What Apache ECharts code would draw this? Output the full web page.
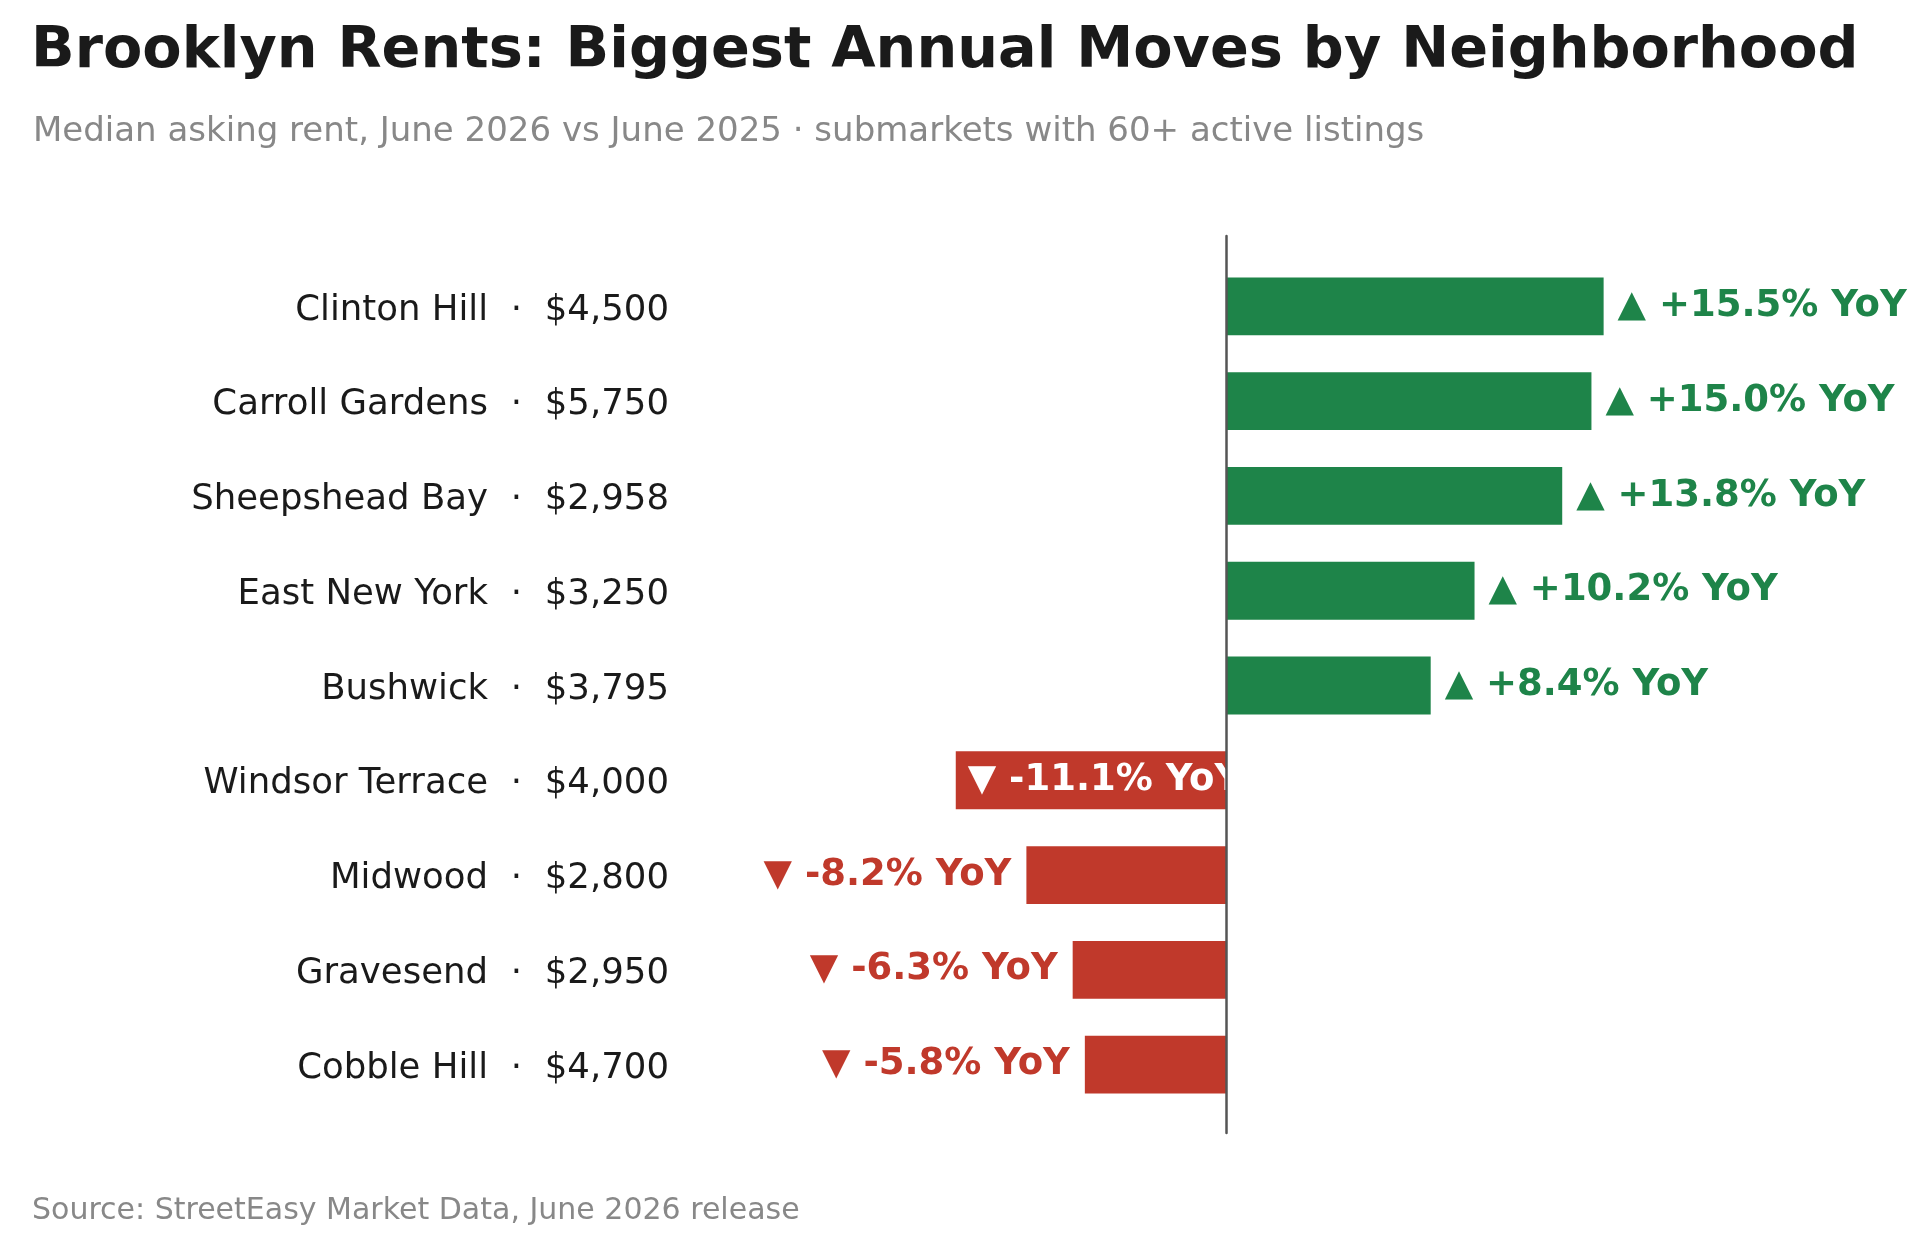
<!DOCTYPE html>
<html>
<head>
<meta charset="utf-8">
<title>Brooklyn Rents</title>
<script src="https://cdn.jsdelivr.net/npm/echarts@6/dist/echarts.min.js"></script>
<style>
  html, body { margin: 0; padding: 0; background: #fff; }
  #main { width: 1920px; height: 1237px; }
</style>
</head>
<body>
<div id="main"></div>
<script>
// neighborhoods, top to bottom
const neighborhoods = ['Clinton Hill', 'Carroll Gardens', 'Sheepshead Bay', 'East New York', 'Bushwick',
                       'Windsor Terrace', 'Midwood', 'Gravesend', 'Cobble Hill'];
// median asking rent, June 2026 ($)
const rents = [4500, 5750, 2958, 3250, 3795, 4000, 2800, 2950, 4700];
// year-over-year change (%)
const yoyChange = [15.5, 15.0, 13.8, 10.2, 8.4, -11.1, -8.2, -6.3, -5.8];

const GREEN = '#1e8449';
const RED = '#c0392b';
const FONT = 'DejaVu Sans';

const chart = echarts.init(document.getElementById('main'));

function yoyText(v) {
    return (v >= 0 ? '▲ +' : '▼ ') + v.toFixed(1) + '% YoY';
}

const barData = yoyChange.map(function (v) {
    const up = v >= 0;
    const inside = v <= -10; // long red bar holds its own label
    return {
        value: v,
        itemStyle: { color: up ? GREEN : RED },
        label: {
            position: up ? 'right' : (inside ? 'insideLeft' : 'left'),
            distance: up ? 14 : (inside ? 12 : 15),
            color: inside ? '#fff' : (up ? GREEN : RED)
        }
    };
});

const option = {
    backgroundColor: '#fff',
    animation: false,
    title: [
        {
            text: 'Brooklyn Rents: Biggest Annual Moves by Neighborhood',
            left: 26, top: 19,
            textStyle: { fontFamily: FONT, fontSize: 57.3, fontWeight: 'bold', color: '#1a1a1a' }
        },
        {
            text: 'Median asking rent, June 2026 vs June 2025 · submarkets with 60+ active listings',
            left: 28, top: 110,
            textStyle: { fontFamily: FONT, fontSize: 34, fontWeight: 'normal', color: '#888' }
        },
        {
            text: 'Source: StreetEasy Market Data, June 2026 release',
            left: 27, top: 1191,
            textStyle: { fontFamily: FONT, fontSize: 30, fontWeight: 'normal', color: '#888' }
        }
    ],
    grid: [
        { left: 739, width: 1096, top: 259, height: 853 },
        { left: 739, width: 1096, top: 236, bottom: 104 } // only for the zero line
    ],
    xAxis: [
        { type: 'value', gridIndex: 0, min: -20, max: 25, show: false },
        { type: 'value', gridIndex: 1, min: -20, max: 25, show: false }
    ],
    yAxis: [
        {
            type: 'category',
            gridIndex: 0,
            inverse: true,
            data: neighborhoods,
            axisLine: { show: false },
            axisTick: { show: false },
            splitLine: { show: false },
            axisLabel: {
                interval: 0,
                margin: 70,
                padding: [8, 0, 0, 0],
                formatter: function (name, i) {
                    return '{n|' + name + '}{d|·}{p|$' + rents[i].toLocaleString('en-US') + '}';
                },
                rich: {
                    n: { fontFamily: FONT, fontSize: 35.5, color: '#1a1a1a', align: 'right' },
                    d: { fontFamily: FONT, fontSize: 35.5, color: '#1a1a1a', width: 57, align: 'center' },
                    p: { fontFamily: FONT, fontSize: 35.5, color: '#1a1a1a', width: 124, align: 'right' }
                }
            }
        },
        {
            type: 'value',
            gridIndex: 1,
            min: 0, max: 1,
            z: 10,
            axisLine: { show: true, onZero: true, lineStyle: { color: '#555', width: 2.5 } },
            axisTick: { show: false },
            axisLabel: { show: false },
            splitLine: { show: false }
        }
    ],
    series: [
        {
            type: 'bar',
            xAxisIndex: 0,
            yAxisIndex: 0,
            barWidth: '61%',
            data: barData,
            label: {
                show: true,
                fontFamily: FONT,
                fontSize: 37,
                fontWeight: 'bold',
                formatter: function (p) { return yoyText(p.value); }
            }
        }
    ]
};

chart.setOption(option);

window.addEventListener('resize', function () {
    chart.resize();
});
</script>
</body>
</html>
